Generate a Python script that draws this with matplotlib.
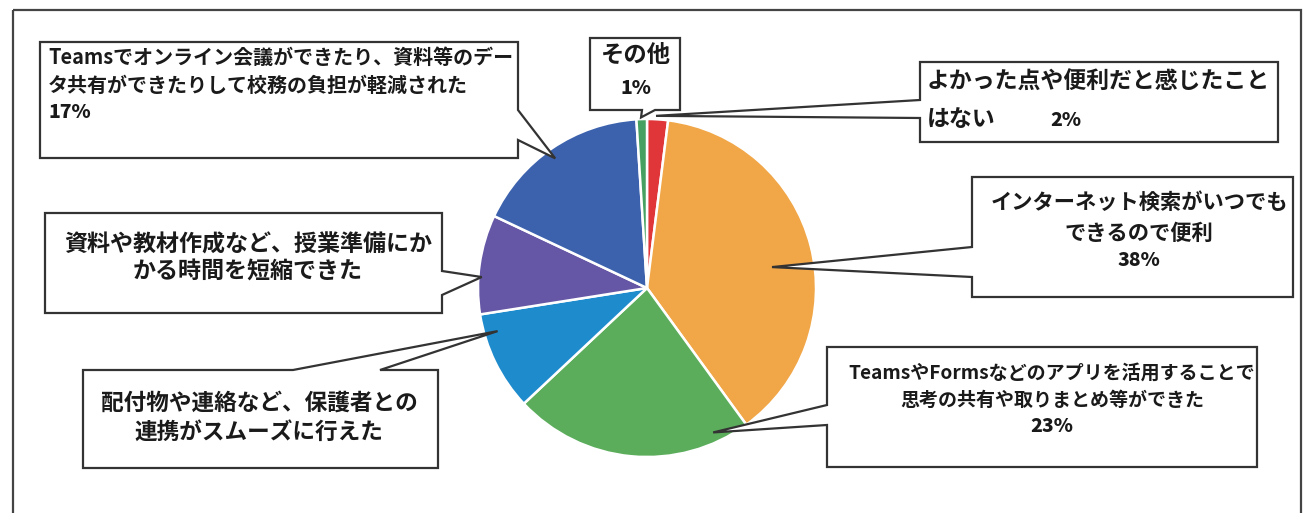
import numpy as np
import matplotlib
matplotlib.use("Agg")
import matplotlib.pyplot as plt
from matplotlib.patches import Polygon, Rectangle

plt.rcParams['font.family'] = ['Noto Sans CJK JP', 'DejaVu Sans']

# ---- data (clockwise from 12 o'clock) ----
labels = [
    "よかった点や便利だと感じたこと\nはない",
    "インターネット検索がいつでも\nできるので便利",
    "TeamsやFormsなどのアプリを活用することで\n思考の共有や取りまとめ等ができた",
    "配付物や連絡など、保護者との\n連携がスムーズに行えた",
    "資料や教材作成など、授業準備にか\nかる時間を短縮できた",
    "Teamsでオンライン会議ができたり、資料等のデー\nタ共有ができたりして校務の負担が軽減された",
    "その他",
]
values = [2, 38, 23, 9.5, 9.5, 17, 1]
show_pct = [True, True, True, False, False, True, True]
colors = ["#E0363A", "#F1A647", "#5BAD5C", "#1E8BCD", "#6657A6", "#3C62AE", "#45A062"]

W, H = 1304, 513
fig = plt.figure(figsize=(W / 100, H / 100), dpi=100)
fig.patch.set_facecolor("white")

# pie placement in pixel units (image coords, y down)
cx, cy, R = 647, 288, 169
pie_ax = fig.add_axes([(cx - R) / W, (H - cy - R) / H, 2 * R / W, 2 * R / H])
pie_ax.pie(values, colors=colors, startangle=90, counterclock=False,
           wedgeprops=dict(edgecolor="white", linewidth=1.8))
pie_ax.set_aspect("auto")
pie_ax.set_xlim(-1, 1)
pie_ax.set_ylim(-1, 1)
pie_ax.axis("off")

ov = fig.add_axes([0, 0, 1, 1], zorder=2)
ov.set_xlim(0, W)
ov.set_ylim(H, 0)
ov.axis("off")
ov.patch.set_alpha(0)

# outer chart frame (bottom edge runs past the canvas)
ov.add_patch(Rectangle((13, 10), 1288, 520, fill=False, edgecolor="#444444",
                       lw=1.6, clip_on=False))


def tip_point(angle_deg, frac):
    a = np.deg2rad(angle_deg)
    disp = pie_ax.transData.transform((frac * np.cos(a), frac * np.sin(a)))
    return ov.transData.inverted().transform(disp)


# callout geometry: box (x0, y0, x1, y1), side of pointer, pointer span,
# tip (angle on pie, fraction of radius), text placement
callouts = [
    dict(box=(920, 62, 1278, 142), side="left", span=(100, 118), tip=(87, 1.02),
         fs=16.5, ha="left", tx=927, ly=[82, 120], pct=(1050, 120, "left")),
    dict(box=(972, 177, 1293, 297), side="left", span=(247, 277), tip=(9.5, 0.75),
         fs=15.3, ha="center", tx=1139, ly=[202, 233], pct=(1139, 261, "center")),
    dict(box=(827, 347, 1257, 467), side="left", span=(405, 425), tip=(-65.4, 0.94),
         fs=13.7, ha="center", tx=1052, ly=[373, 400], pct=(1052, 427, "center")),
    dict(box=(83, 370, 438, 468), side="top", span=(293, 380), tip=(196.1, 0.92),
         fs=16.3, ha="center", tx=259, ly=[403, 432], pct=None),
    dict(box=(45, 213, 442, 313), side="right", span=(271, 295), tip=(176.2, 0.98),
         fs=16.6, ha="center", tx=248, ly=[245, 272], pct=None),
    dict(box=(40, 42, 518, 158), side="right", span=(110, 140), tip=(125.3, 0.94),
         fs=14.4, ha="left", tx=48, ly=[57, 85], pct=(48, 113, "left")),
    dict(box=(590, 38, 680, 110), side="bottom", span=(642, 655), tip=(92, 1.01),
         fs=16.8, ha="center", tx=636, ly=[55], pct=(636, 88, "center")),
]

edge_col = "#333333"
text_col = "#1a1a1a"

for lab, val, sp, c in zip(labels, values, show_pct, callouts):
    x0, y0, x1, y1 = c["box"]
    s0, s1 = c["span"]
    tx, ty = tip_point(*c["tip"])
    if c["side"] == "left":
        pts = [(x0, y0), (x1, y0), (x1, y1), (x0, y1), (x0, s1), (tx, ty), (x0, s0)]
    elif c["side"] == "right":
        pts = [(x0, y0), (x1, y0), (x1, s0), (tx, ty), (x1, s1), (x1, y1), (x0, y1)]
    elif c["side"] == "top":
        pts = [(x0, y0), (s0, y0), (tx, ty), (s1, y0), (x1, y0), (x1, y1), (x0, y1)]
    else:  # bottom
        pts = [(x0, y0), (x1, y0), (x1, y1), (s1, y1), (tx, ty), (s0, y1), (x0, y1)]
    ov.add_patch(Polygon(pts, closed=True, facecolor="white", edgecolor=edge_col,
                         lw=1.6, joinstyle="miter"))

    for line, y in zip(lab.split("\n"), c["ly"]):
        ov.text(c["tx"], y, line, ha=c["ha"], va="center", fontsize=c["fs"],
                fontweight="bold", color=text_col)
    if sp and c["pct"] is not None:
        px, py, pha = c["pct"]
        ov.text(px, py, f"{val:.0f}%", ha=pha, va="center", fontsize=14,
                fontweight="heavy", color=text_col)

fig.savefig("out.png", dpi=100, facecolor="white")
